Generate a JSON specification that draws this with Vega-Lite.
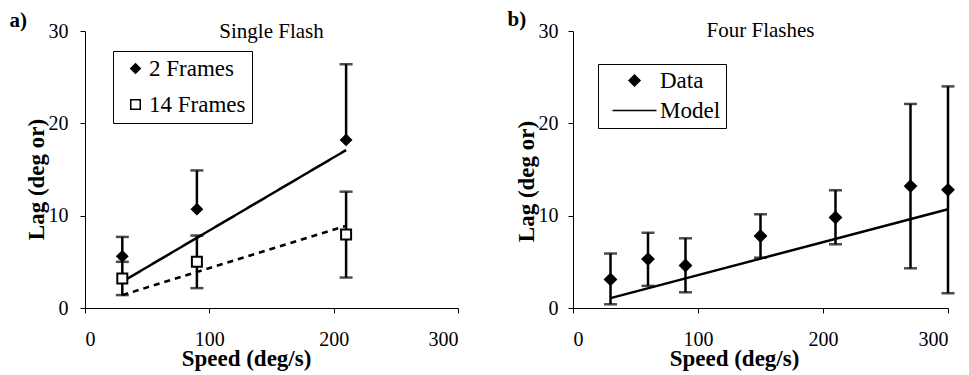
{
  "$schema": "https://vega.github.io/schema/vega-lite/v6.json",
  "padding": {"left": 9, "top": 8, "right": 10, "bottom": 5},
  "bounds": "flush",
  "spacing": 115,
  "background": "white",
  "resolve": {
    "scale": {"x": "independent", "y": "independent", "shape": "independent", "fill": "independent", "size": "independent", "strokeDash": "independent"},
    "legend": {"shape": "independent", "fill": "independent", "size": "independent"}
  },
  "config": {
    "font": "Liberation Serif",
    "view": {"stroke": null},
    "axis": {
      "grid": false,
      "domainColor": "black",
      "domainWidth": 1,
      "tickColor": "black",
      "tickWidth": 1,
      "tickSize": 5,
      "labelFont": "Liberation Serif",
      "labelFontSize": 20,
      "labelColor": "black",
      "titleFont": "Liberation Serif",
      "titleFontSize": 23,
      "titleFontWeight": "bold",
      "titleColor": "black"
    },
    "legend": {
      "title": null,
      "orient": "none",
      "direction": "vertical",
      "strokeColor": "black",
      "fillColor": "white",
      "labelFont": "Liberation Serif",
      "labelFontSize": 23,
      "labelColor": "black",
      "labelLimit": 300
    },
    "title": {
      "font": "Liberation Serif",
      "fontSize": 21,
      "fontWeight": "normal",
      "color": "black"
    }
  },
  "datasets": {
    "single": [
      {"frames": "2 Frames", "speed": 30, "lag": 5.6, "lo": 5.6, "hi": 7.7},
      {"frames": "2 Frames", "speed": 90, "lag": 10.7, "lo": 10.7, "hi": 14.9},
      {"frames": "2 Frames", "speed": 210, "lag": 18.2, "lo": 18.2, "hi": 26.4},
      {"frames": "14 Frames", "speed": 30, "lag": 3.2, "lo": 1.4, "hi": 5.0},
      {"frames": "14 Frames", "speed": 90, "lag": 5.0, "lo": 2.15, "hi": 7.85},
      {"frames": "14 Frames", "speed": 210, "lag": 7.95, "lo": 3.3, "hi": 12.6}
    ],
    "singleModel": [
      {"curve": "2 Frames fit", "speed": 30, "fit": 2.85},
      {"curve": "2 Frames fit", "speed": 210, "fit": 17.1},
      {"curve": "14 Frames fit", "speed": 30, "fit": 1.4},
      {"curve": "14 Frames fit", "speed": 210, "fit": 8.9}
    ],
    "four": [
      {"kind": "Data", "speed": 30, "lag": 3.1, "lo": 0.4, "hi": 5.9},
      {"kind": "Data", "speed": 60, "lag": 5.3, "lo": 2.4, "hi": 8.15},
      {"kind": "Data", "speed": 90, "lag": 4.6, "lo": 1.7, "hi": 7.55},
      {"kind": "Data", "speed": 150, "lag": 7.8, "lo": 5.45, "hi": 10.15},
      {"kind": "Data", "speed": 210, "lag": 9.8, "lo": 6.9, "hi": 12.75},
      {"kind": "Data", "speed": 270, "lag": 13.2, "lo": 4.3, "hi": 22.1},
      {"kind": "Data", "speed": 300, "lag": 12.8, "lo": 1.6, "hi": 24.0}
    ],
    "fourModel": [
      {"speed": 30, "fit": 1.07},
      {"speed": 300, "fit": 10.7}
    ]
  },
  "hconcat": [
    {
      "width": 373,
      "height": 277,
      "title": {"text": "Single Flash", "anchor": "middle", "offset": -33},
      "resolve": {"axis": {"x": "independent"}},
      "layer": [
        {
          "data": {"name": "single"},
          "mark": {"type": "rule", "color": "black", "strokeWidth": 2.5},
          "encoding": {
            "x": {
              "field": "speed",
              "type": "quantitative",
              "scale": {"domain": [0, 300], "nice": false},
              "axis": {
                "values": [0, 100, 200, 300],
                "title": "Speed (deg/s)",
                "labelPadding": 16,
                "titleX": 161,
                "titleY": 57,
                "titleBaseline": "alphabetic",
                "titleAnchor": null,
                "titleAlign": "center"
              }
            },
            "y": {
              "field": "lo",
              "type": "quantitative",
              "scale": {"domain": [0, 30], "nice": false},
              "axis": {
                "values": [0, 10, 20, 30],
                "title": "Lag (deg or)",
                "labelPadding": 12,
                "titleAngle": -90,
                "titleX": -42,
                "titleY": 148,
                "titleAlign": "center",
                "titleBaseline": "alphabetic",
                "titleAnchor": null
              }
            },
            "y2": {"field": "hi"}
          }
        },
        {
          "data": {"name": "single"},
          "mark": {"type": "tick", "orient": "horizontal", "color": "black", "size": 13, "thickness": 2.5},
          "encoding": {
            "x": {
              "field": "speed",
              "type": "quantitative",
              "axis": {
                "orient": "top",
                "title": "a)",
                "domain": false,
                "ticks": false,
                "labels": false,
                "titleFontSize": 21,
                "titleX": -76,
                "titleY": -5,
                "titleAlign": "left",
                "titleBaseline": "alphabetic",
                "titleAnchor": null
              }
            },
            "y": {"field": "hi", "type": "quantitative"}
          }
        },
        {
          "data": {"name": "single"},
          "transform": [{"filter": "datum.lo < datum.lag"}],
          "mark": {"type": "tick", "orient": "horizontal", "color": "black", "size": 13, "thickness": 2.5},
          "encoding": {
            "x": {"field": "speed", "type": "quantitative", "axis": null},
            "y": {"field": "lo", "type": "quantitative"}
          }
        },
        {
          "data": {"name": "singleModel"},
          "mark": {"type": "line", "color": "black", "strokeWidth": 2.5},
          "encoding": {
            "x": {"field": "speed", "type": "quantitative", "axis": null},
            "y": {"field": "fit", "type": "quantitative"},
            "detail": {"field": "curve", "type": "nominal"},
            "strokeDash": {
              "field": "curve",
              "type": "nominal",
              "scale": {"domain": ["2 Frames fit", "14 Frames fit"], "range": [[1, 0], [6, 5]]},
              "legend": null
            }
          }
        },
        {
          "data": {"name": "single"},
          "mark": {"type": "point", "filled": true, "opacity": 1, "stroke": "black", "strokeWidth": 2, "size": 100},
          "encoding": {
            "x": {"field": "speed", "type": "quantitative", "axis": null},
            "y": {"field": "lag", "type": "quantitative"},
            "shape": {
              "field": "frames",
              "type": "nominal",
              "scale": {"domain": ["2 Frames", "14 Frames"], "range": ["diamond", "square"]},
              "legend": {
                "legendX": 28, "legendY": 20,
                "padding": 6, "rowPadding": 12,
                "symbolOffset": 5, "labelOffset": 2, "symbolSize": 90,
                "encode": {"symbols": {"update": {"stroke": {"value": "black"}, "strokeWidth": {"value": 1.5}}}}
              }
            },
            "fill": {
              "field": "frames",
              "type": "nominal",
              "scale": {"domain": ["2 Frames", "14 Frames"], "range": ["black", "white"]},
              "legend": {
                "legendX": 28, "legendY": 20,
                "padding": 6, "rowPadding": 12,
                "symbolOffset": 5, "labelOffset": 2, "symbolSize": 90,
                "encode": {"symbols": {"update": {"stroke": {"value": "black"}, "strokeWidth": {"value": 1.5}}}}
              }
            }
          }
        }
      ]
    },
    {
      "width": 375,
      "height": 277,
      "title": {"text": "Four Flashes", "anchor": "middle", "offset": -33},
      "resolve": {"axis": {"x": "independent"}},
      "layer": [
        {
          "data": {"name": "four"},
          "mark": {"type": "rule", "color": "black", "strokeWidth": 2.5},
          "encoding": {
            "x": {
              "field": "speed",
              "type": "quantitative",
              "scale": {"domain": [0, 300], "nice": false},
              "axis": {
                "values": [0, 100, 200, 300],
                "title": "Speed (deg/s)",
                "labelPadding": 16,
                "titleX": 161,
                "titleY": 57,
                "titleBaseline": "alphabetic",
                "titleAnchor": null,
                "titleAlign": "center"
              }
            },
            "y": {
              "field": "lo",
              "type": "quantitative",
              "scale": {"domain": [0, 30], "nice": false},
              "axis": {
                "values": [0, 10, 20, 30],
                "title": "Lag (deg or)",
                "labelPadding": 10,
                "titleAngle": -90,
                "titleX": -40,
                "titleY": 150,
                "titleAlign": "center",
                "titleBaseline": "alphabetic",
                "titleAnchor": null
              }
            },
            "y2": {"field": "hi"}
          }
        },
        {
          "data": {"name": "four"},
          "mark": {"type": "tick", "orient": "horizontal", "color": "black", "size": 13, "thickness": 2.5},
          "encoding": {
            "x": {
              "field": "speed",
              "type": "quantitative",
              "axis": {
                "orient": "top",
                "title": "b)",
                "domain": false,
                "ticks": false,
                "labels": false,
                "titleFontSize": 21,
                "titleX": -66,
                "titleY": -6,
                "titleAlign": "left",
                "titleBaseline": "alphabetic",
                "titleAnchor": null
              }
            },
            "y": {"field": "hi", "type": "quantitative"}
          }
        },
        {
          "data": {"name": "four"},
          "mark": {"type": "tick", "orient": "horizontal", "color": "black", "size": 13, "thickness": 2.5},
          "encoding": {
            "x": {"field": "speed", "type": "quantitative", "axis": null},
            "y": {"field": "lo", "type": "quantitative"}
          }
        },
        {
          "data": {"name": "fourModel"},
          "mark": {"type": "line", "color": "black", "strokeWidth": 2.5},
          "encoding": {
            "x": {"field": "speed", "type": "quantitative", "axis": null},
            "y": {"field": "fit", "type": "quantitative"}
          }
        },
        {
          "data": {"name": "four"},
          "mark": {"type": "point", "filled": true, "opacity": 1, "color": "black", "stroke": "black", "strokeWidth": 2, "size": 121},
          "encoding": {
            "x": {"field": "speed", "type": "quantitative", "axis": null},
            "y": {"field": "lag", "type": "quantitative"},
            "shape": {
              "field": "kind",
              "type": "nominal",
              "scale": {"domain": ["Data", "Model"], "range": ["diamond", "M-4,0H4"]},
              "legend": {
                "legendX": 25, "legendY": 33,
                "padding": 5, "rowPadding": 6,
                "symbolOffset": 20, "labelOffset": 14, "symbolSize": 121,
                "encode": {"symbols": {"update": {"stroke": {"value": "black"}, "strokeWidth": {"value": 2.5}, "fill": {"value": "black"}}}}
              }
            }
          }
        }
      ]
    }
  ]
}
